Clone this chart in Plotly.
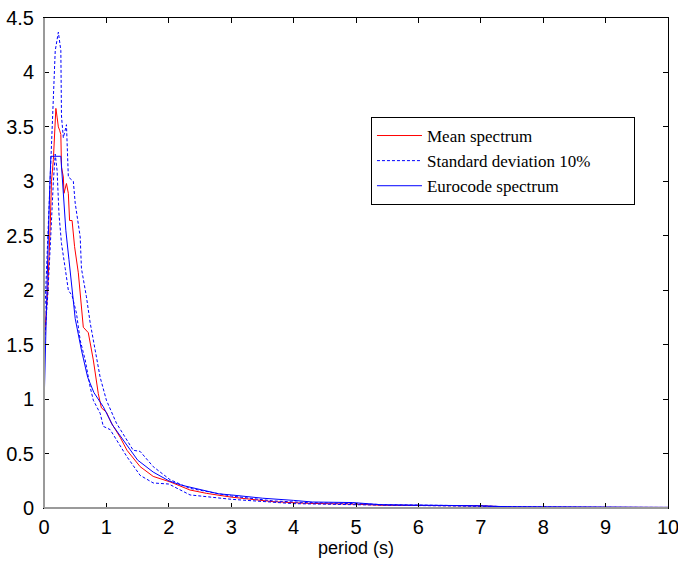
import plotly.graph_objects as go

# Mean spectrum
t_mean = [0, 0.06, 0.1, 0.12, 0.15, 0.19, 0.21, 0.23, 0.25, 0.27, 0.28, 0.31, 0.32, 0.36, 0.39,
          0.41, 0.45, 0.49, 0.55, 0.59, 0.63, 0.71, 0.79, 0.87, 0.92, 1.0, 1.08, 1.22, 1.33, 1.54,
          1.75, 2.02, 2.34, 2.6, 3.0, 3.67, 4.2, 5.0, 5.4, 7.0, 7.5, 10.0]
v_mean = [1.5, 2.0, 2.6, 3.0, 3.2, 3.67, 3.59, 3.5, 3.47, 3.43, 3.13, 3.04, 2.89, 2.98, 2.89,
          2.64, 2.64, 2.4, 2.16, 1.91, 1.66, 1.61, 1.36, 1.05, 0.92, 0.88, 0.78, 0.65, 0.53, 0.38,
          0.29, 0.24, 0.165, 0.135, 0.10, 0.058, 0.043, 0.035, 0.025, 0.02, 0.008, 0.005]

# Mean + 10% standard deviation
t_up = [0, 0.06, 0.1, 0.14, 0.18, 0.23, 0.27, 0.28, 0.31, 0.36, 0.39, 0.47, 0.5, 0.58, 0.6,
        0.68, 0.74, 0.82, 0.9, 1.0, 1.16, 1.43, 1.54, 1.75, 2.02, 2.34, 2.6, 3.0, 3.67, 4.2,
        5.0, 5.5, 7.0, 7.5, 10.0]
v_up = [1.6, 2.5, 3.0, 3.6, 4.2, 4.37, 4.2, 3.6, 3.4, 3.52, 3.04, 3.0, 2.8, 2.49, 2.2,
        1.94, 1.7, 1.45, 1.2, 0.99, 0.78, 0.53, 0.52, 0.38, 0.26, 0.18, 0.15, 0.11, 0.065, 0.05,
        0.04, 0.03, 0.02, 0.01, 0.005]

# Mean - 10% standard deviation
t_low = [0, 0.06, 0.1, 0.13, 0.15, 0.18, 0.21, 0.24, 0.26, 0.28, 0.34, 0.39, 0.45, 0.52, 0.58,
         0.66, 0.74, 0.79, 0.9, 0.95, 1.06, 1.33, 1.54, 1.75, 2.0, 2.34, 3.0, 4.0, 5.0, 7.0, 10.0]
v_low = [1.45, 1.95, 2.4, 2.8, 3.0, 3.25, 3.1, 2.7, 2.52, 2.43, 2.2, 2.0, 1.95, 1.79, 1.54,
         1.36, 1.11, 0.99, 0.87, 0.75, 0.72, 0.47, 0.30, 0.23, 0.22, 0.12, 0.08, 0.04, 0.03, 0.015, 0.003]

# Eurocode spectrum
t_ec = [0, 0.03, 0.06, 0.09, 0.11, 0.27, 0.3, 0.35, 0.4, 0.5, 0.6, 0.7, 0.8, 0.95, 1.1, 1.27,
        1.5, 1.75, 2.0, 2.2, 2.5, 2.8, 3.0, 3.5, 4.0, 4.3, 4.95, 5.4, 7.0, 7.5, 10.0]
v_ec = [0.92, 1.7, 2.3, 2.9, 3.23, 3.23, 2.95, 2.55, 2.28, 1.74, 1.45, 1.2, 1.06, 0.93, 0.76, 0.62,
        0.44, 0.33, 0.25, 0.21, 0.17, 0.13, 0.12, 0.09, 0.07, 0.055, 0.05, 0.03, 0.02, 0.01, 0.006]

x_ticks = list(range(0, 11))
y_ticks = [0, 0.5, 1, 1.5, 2, 2.5, 3, 3.5, 4, 4.5]
y_labels = ["0", "0.5", "1", "1.5", "2", "2.5", "3", "3.5", "4", "4.5"]

NB = "\u00a0"

fig = go.Figure()
fig.add_trace(go.Scatter(x=t_mean, y=v_mean, mode="lines", name="Mean spectrum",
                         line=dict(color="#ff0000", width=1)))
fig.add_trace(go.Scatter(x=t_up, y=v_up, mode="lines", name="Standard deviation 10%" + NB * 9,
                         line=dict(color="#0000ff", width=1, dash="3px,2px")))
fig.add_trace(go.Scatter(x=t_low, y=v_low, mode="lines", name="Standard deviation 10%",
                         showlegend=False, line=dict(color="#0000ff", width=1, dash="3px,2px")))
fig.add_trace(go.Scatter(x=t_ec, y=v_ec, mode="lines", name="Eurocode spectrum",
                         line=dict(color="#0000ff", width=1)))

axis_common = dict(showgrid=False, zeroline=False, ticks="inside", ticklen=5, tickcolor="black",
                   showline=True, linecolor="black", linewidth=1, mirror="ticks", automargin=False,
                   ticklabeloverflow="allow",
                   tickfont=dict(family="Liberation Sans, Arial", size=20, color="black"))

fig.update_layout(
    width=678, height=561,
    margin=dict(l=44, r=10, t=18, b=53),
    paper_bgcolor="white", plot_bgcolor="white",
    xaxis=dict(range=[0, 10], tickvals=x_ticks, ticklabelstandoff=1,
               title=dict(text="period (s)", standoff=2,
                          font=dict(family="Liberation Sans, Arial", size=18, color="black")),
               **axis_common),
    yaxis=dict(range=[0, 4.5], tickvals=y_ticks, ticktext=y_labels, ticklabelstandoff=5, **axis_common),
    legend=dict(x=0.524, y=0.798, xanchor="left", yanchor="top", bgcolor="white",
                bordercolor="black", borderwidth=1, itemwidth=45,
                font=dict(family="Liberation Serif, Times New Roman", size=17, color="black"),
                tracegroupgap=0),
    showlegend=True,
)
# grey left/bottom axis edges as in the original
fig.add_shape(type="line", xref="paper", yref="paper", x0=0, x1=0, y0=0, y1=1,
              line=dict(color="#9a9a9a", width=2), layer="above")
fig.add_shape(type="line", xref="paper", yref="paper", x0=0, x1=1, y0=0, y1=0,
              line=dict(color="#9a9a9a", width=2), layer="above")

fig.write_html("out.html", config={"displayModeBar": False},
               post_script="document.body.style.margin='0px';")
